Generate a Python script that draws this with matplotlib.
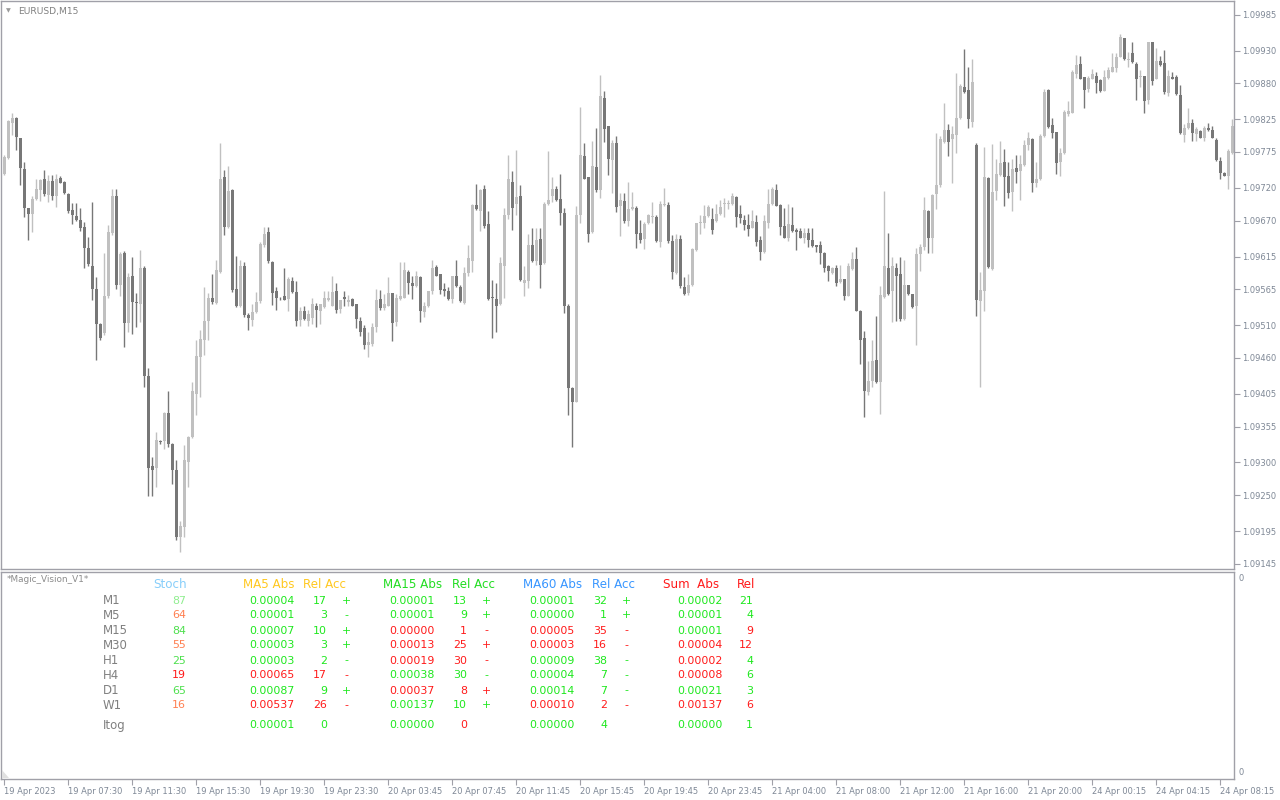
import numpy as np
import matplotlib.pyplot as plt
from matplotlib.patches import Polygon

# EURUSD M15 candles, prices in points (1e-5)
open_pts = [
    109742, 109766, 109820, 109827, 109796, 109749, 109689, 109680, 109703, 109717,
    109734, 109709, 109731, 109708, 109735, 109729, 109711, 109686, 109677, 109671,
    109661, 109628, 109601, 109565, 109512, 109498, 109554, 109651, 109707, 109572,
    109620, 109514, 109586, 109546, 109543, 109597, 109432, 109294, 109291, 109333,
    109333, 109376, 109329, 109289, 109186, 109201, 109301, 109339, 109405, 109462,
    109488, 109517, 109552, 109544, 109592, 109737, 109660, 109717, 109565, 109540,
    109601, 109526, 109518, 109530, 109547, 109632, 109652, 109607, 109562, 109552,
    109555, 109550, 109578, 109561, 109518, 109531, 109517, 109521, 109540, 109532,
    109538, 109548, 109540, 109562, 109535, 109553, 109546, 109550, 109542, 109516,
    109506, 109479, 109481, 109508, 109550, 109537, 109540, 109559, 109515, 109550,
    109552, 109591, 109575, 109570, 109583, 109530, 109539, 109562, 109599, 109588,
    109565, 109563, 109550, 109585, 109569, 109544, 109590, 109608, 109694, 109685,
    109718, 109665, 109553, 109550, 109542, 109600, 109678, 109729, 109695, 109708,
    109575, 109577, 109632, 109608, 109642, 109605, 109695, 109708, 109719, 109703,
    109681, 109539, 109414, 109393, 109678, 109769, 109736, 109652, 109752, 109717,
    109858, 109814, 109763, 109789, 109693, 109700, 109670, 109688, 109690, 109651,
    109642, 109666, 109675, 109676, 109638, 109694, 109694, 109639, 109590, 109642,
    109569, 109559, 109571, 109625, 109666, 109667, 109677, 109672, 109669, 109680,
    109695, 109695, 109695, 109706, 109680, 109671, 109663, 109659, 109668, 109640,
    109622, 109667, 109695, 109717, 109694, 109662, 109644, 109663, 109656, 109654,
    109644, 109651, 109641, 109632, 109632, 109621, 109600, 109590, 109598, 109576,
    109580, 109555, 109596, 109612, 109532, 109491, 109408, 109424, 109456, 109423,
    109553, 109598, 109563, 109597, 109588, 109519, 109571, 109557, 109540, 109619,
    109630, 109685, 109643, 109710, 109724, 109790, 109808, 109795, 109801, 109827,
    109875, 109870, 109821, 109785, 109547, 109563, 109735, 109596, 109715, 109740,
    109760, 109738, 109714, 109751, 109746, 109755, 109785, 109795, 109728, 109733,
    109799, 109870, 109816, 109805, 109760, 109773, 109833, 109835, 109895, 109910,
    109889, 109871, 109887, 109891, 109885, 109869, 109888, 109898, 109904, 109921,
    109949, 109916, 109927, 109909, 109889, 109891, 109854, 109943, 109887, 109914,
    109911, 109866, 109889, 109889, 109862, 109801, 109811, 109819, 109803, 109807,
    109797, 109812, 109808, 109794, 109761, 109743, 109739, 109773,
]
high_pts = [
    109771, 109824, 109835, 109828, 109797, 109760, 109690, 109707, 109733, 109733,
    109748, 109740, 109740, 109742, 109738, 109731, 109712, 109697, 109697, 109689,
    109668, 109645, 109698, 109584, 109513, 109620, 109663, 109718, 109718, 109622,
    109624, 109590, 109615, 109559, 109625, 109600, 109444, 109308, 109347, 109334,
    109377, 109409, 109330, 109303, 109211, 109326, 109341, 109423, 109487, 109502,
    109569, 109559, 109589, 109610, 109789, 109748, 109754, 109718, 109616, 109610,
    109607, 109528, 109543, 109561, 109638, 109661, 109661, 109608, 109569, 109553,
    109598, 109584, 109584, 109577, 109538, 109539, 109533, 109551, 109544, 109543,
    109563, 109562, 109586, 109575, 109549, 109562, 109556, 109552, 109543, 109523,
    109510, 109499, 109514, 109565, 109564, 109558, 109583, 109560, 109558, 109607,
    109607, 109594, 109586, 109593, 109585, 109546, 109563, 109609, 109602, 109589,
    109574, 109569, 109586, 109609, 109572, 109599, 109632, 109696, 109726, 109719,
    109724, 109685, 109579, 109574, 109615, 109690, 109770, 109746, 109778, 109725,
    109600, 109649, 109659, 109658, 109658, 109699, 109776, 109737, 109723, 109742,
    109690, 109543, 109415, 109693, 109844, 109788, 109737, 109792, 109811, 109893,
    109868, 109815, 109793, 109799, 109712, 109712, 109729, 109714, 109692, 109671,
    109668, 109680, 109699, 109678, 109700, 109720, 109699, 109648, 109649, 109648,
    109584, 109589, 109628, 109667, 109678, 109694, 109694, 109689, 109696, 109702,
    109704, 109702, 109713, 109707, 109694, 109679, 109680, 109686, 109678, 109647,
    109678, 109719, 109722, 109726, 109695, 109690, 109696, 109691, 109658, 109658,
    109658, 109658, 109658, 109633, 109639, 109622, 109602, 109599, 109602, 109602,
    109581, 109605, 109622, 109629, 109533, 109501, 109455, 109488, 109524, 109570,
    109715, 109651, 109615, 109605, 109615, 109610, 109572, 109558, 109628, 109634,
    109706, 109686, 109711, 109804, 109799, 109850, 109818, 109815, 109896, 109879,
    109933, 109905, 109917, 109789, 109591, 109783, 109737, 109787, 109765, 109792,
    109779, 109760, 109765, 109771, 109770, 109793, 109805, 109797, 109760, 109803,
    109871, 109871, 109827, 109806, 109781, 109839, 109853, 109900, 109923, 109922,
    109890, 109891, 109902, 109898, 109887, 109900, 109905, 109926, 109926, 109956,
    109950, 109928, 109944, 109913, 109901, 109892, 109944, 109944, 109934, 109922,
    109931, 109901, 109898, 109893, 109877, 109818, 109842, 109825, 109813, 109809,
    109815, 109820, 109815, 109796, 109767, 109745, 109780, 109826,
]
low_pts = [
    109740, 109764, 109801, 109778, 109725, 109676, 109641, 109652, 109702, 109700,
    109707, 109699, 109702, 109691, 109727, 109710, 109681, 109665, 109670, 109654,
    109597, 109601, 109548, 109456, 109487, 109495, 109551, 109648, 109566, 109554,
    109477, 109500, 109497, 109508, 109515, 109416, 109249, 109249, 109262, 109329,
    109321, 109324, 109267, 109182, 109163, 109186, 109262, 109338, 109373, 109400,
    109464, 109487, 109543, 109543, 109590, 109648, 109658, 109561, 109538, 109538,
    109523, 109502, 109509, 109528, 109544, 109630, 109605, 109541, 109534, 109549,
    109548, 109532, 109560, 109509, 109509, 109518, 109509, 109512, 109507, 109512,
    109537, 109547, 109539, 109529, 109529, 109540, 109540, 109539, 109505, 109494,
    109474, 109461, 109478, 109500, 109534, 109533, 109539, 109486, 109509, 109549,
    109551, 109557, 109550, 109569, 109515, 109523, 109538, 109558, 109585, 109558,
    109555, 109549, 109544, 109569, 109545, 109543, 109586, 109592, 109687, 109654,
    109659, 109548, 109491, 109500, 109541, 109552, 109673, 109656, 109679, 109578,
    109555, 109567, 109607, 109602, 109567, 109604, 109694, 109698, 109700, 109663,
    109529, 109373, 109323, 109392, 109667, 109733, 109638, 109651, 109714, 109704,
    109791, 109740, 109713, 109683, 109646, 109666, 109662, 109687, 109628, 109635,
    109626, 109665, 109666, 109637, 109629, 109693, 109635, 109580, 109589, 109567,
    109556, 109556, 109570, 109624, 109650, 109658, 109676, 109650, 109668, 109679,
    109676, 109688, 109694, 109661, 109667, 109655, 109647, 109658, 109631, 109610,
    109621, 109658, 109694, 109692, 109648, 109643, 109639, 109653, 109625, 109643,
    109635, 109630, 109630, 109622, 109603, 109591, 109578, 109589, 109570, 109575,
    109548, 109554, 109595, 109531, 109450, 109370, 109403, 109415, 109422, 109374,
    109552, 109556, 109515, 109516, 109517, 109518, 109556, 109537, 109480, 109593,
    109625, 109621, 109621, 109688, 109721, 109789, 109769, 109727, 109774, 109826,
    109866, 109811, 109813, 109524, 109415, 109531, 109598, 109595, 109701, 109739,
    109692, 109704, 109685, 109728, 109702, 109754, 109778, 109714, 109722, 109732,
    109798, 109812, 109796, 109741, 109739, 109772, 109830, 109834, 109888, 109886,
    109843, 109867, 109886, 109866, 109867, 109868, 109887, 109897, 109898, 109920,
    109916, 109905, 109911, 109854, 109875, 109835, 109849, 109878, 109886, 109907,
    109864, 109861, 109886, 109862, 109803, 109790, 109810, 109792, 109792, 109796,
    109792, 109807, 109796, 109761, 109733, 109738, 109718, 109772,
]
close_pts = [
    109768, 109822, 109827, 109798, 109750, 109689, 109680, 109703, 109718, 109732,
    109710, 109730, 109708, 109734, 109728, 109712, 109684, 109678, 109671, 109659,
    109628, 109603, 109565, 109512, 109491, 109554, 109652, 109707, 109572, 109619,
    109513, 109584, 109545, 109544, 109598, 109432, 109291, 109289, 109334, 109331,
    109375, 109329, 109289, 109186, 109203, 109303, 109339, 109409, 109463, 109489,
    109517, 109552, 109545, 109594, 109734, 109661, 109716, 109564, 109540, 109601,
    109525, 109521, 109530, 109546, 109634, 109650, 109608, 109560, 109552, 109551,
    109549, 109581, 109561, 109517, 109532, 109519, 109527, 109542, 109533, 109542,
    109552, 109552, 109561, 109534, 109548, 109550, 109548, 109540, 109519, 109500,
    109479, 109484, 109508, 109548, 109537, 109542, 109559, 109513, 109552, 109554,
    109594, 109574, 109570, 109586, 109531, 109540, 109562, 109598, 109586, 109564,
    109563, 109550, 109585, 109570, 109547, 109590, 109613, 109694, 109688, 109717,
    109662, 109550, 109551, 109540, 109605, 109678, 109734, 109690, 109706, 109579,
    109579, 109632, 109608, 109640, 109602, 109696, 109702, 109718, 109701, 109681,
    109539, 109414, 109392, 109678, 109770, 109734, 109649, 109754, 109717, 109860,
    109810, 109764, 109789, 109691, 109701, 109670, 109688, 109691, 109649, 109640,
    109665, 109678, 109677, 109639, 109696, 109695, 109639, 109592, 109642, 109570,
    109558, 109571, 109626, 109666, 109668, 109677, 109691, 109655, 109680, 109691,
    109696, 109696, 109708, 109676, 109674, 109663, 109657, 109669, 109638, 109622,
    109669, 109695, 109718, 109693, 109661, 109644, 109665, 109654, 109653, 109644,
    109651, 109640, 109631, 109630, 109621, 109598, 109593, 109597, 109575, 109580,
    109555, 109600, 109612, 109532, 109488, 109409, 109424, 109455, 109423, 109556,
    109600, 109557, 109600, 109586, 109519, 109571, 109557, 109538, 109619, 109630,
    109686, 109643, 109709, 109724, 109795, 109808, 109790, 109802, 109827, 109876,
    109867, 109825, 109882, 109549, 109564, 109737, 109599, 109714, 109741, 109758,
    109737, 109712, 109749, 109745, 109756, 109785, 109796, 109728, 109734, 109800,
    109867, 109813, 109804, 109758, 109774, 109836, 109837, 109897, 109908, 109887,
    109870, 109888, 109894, 109881, 109869, 109889, 109900, 109905, 109920, 109951,
    109917, 109917, 109912, 109887, 109891, 109853, 109943, 109884, 109914, 109908,
    109867, 109891, 109887, 109864, 109804, 109811, 109820, 109804, 109810, 109797,
    109812, 109808, 109797, 109762, 109743, 109739, 109776, 109815,
]

price_ticks = [1.09985, 1.09930, 1.09880, 1.09825, 1.09775, 1.09720, 1.09670, 1.09615,
               1.09565, 1.09510, 1.09460, 1.09405, 1.09355, 1.09300, 1.09250, 1.09195, 1.09145]
time_labels = ['19 Apr 2023', '19 Apr 07:30', '19 Apr 11:30', '19 Apr 15:30', '19 Apr 19:30',
               '19 Apr 23:30', '20 Apr 03:45', '20 Apr 07:45', '20 Apr 11:45', '20 Apr 15:45',
               '20 Apr 19:45', '20 Apr 23:45', '21 Apr 04:00', '21 Apr 08:00', '21 Apr 12:00',
               '21 Apr 16:00', '21 Apr 20:00', '24 Apr 00:15', '24 Apr 04:15', '24 Apr 08:15']
bars_per_label = 16

# indicator table (Magic_Vision_V1)
tf_names = ['M1', 'M5', 'M15', 'M30', 'H1', 'H4', 'D1', 'W1']
stoch_vals = ['87', '64', '84', '55', '25', '19', '65', '16']
stoch_cols = ['#90ee90', '#ff7f50', '#4ee04e', '#ff7f50', '#4ee04e', '#ff1a1a', '#4ee04e', '#ff7f50']

ma5_abs = ['0.00004', '0.00001', '0.00007', '0.00003', '0.00003', '0.00065', '0.00087', '0.00537']
ma5_rel = ['17', '3', '10', '3', '2', '17', '9', '26']
ma5_acc = ['+', '-', '+', '+', '-', '-', '+', '-']
ma5_col = ['g', 'g', 'g', 'g', 'g', 'r', 'g', 'r']

ma15_abs = ['0.00001', '0.00001', '0.00000', '0.00013', '0.00019', '0.00038', '0.00037', '0.00137']
ma15_rel = ['13', '9', '1', '25', '30', '30', '8', '10']
ma15_acc = ['+', '+', '-', '+', '-', '-', '+', '+']
ma15_col = ['g', 'g', 'r', 'r', 'r', 'g', 'r', 'g']

ma60_abs = ['0.00001', '0.00000', '0.00005', '0.00003', '0.00009', '0.00004', '0.00014', '0.00010']
ma60_rel = ['32', '1', '35', '16', '38', '7', '7', '2']
ma60_acc = ['+', '+', '-', '-', '-', '-', '-', '-']
ma60_col = ['g', 'g', 'r', 'r', 'g', 'g', 'g', 'r']

sum_abs = ['0.00002', '0.00001', '0.00001', '0.00004', '0.00002', '0.00008', '0.00021', '0.00137']
sum_abs_col = ['g', 'g', 'g', 'r', 'r', 'r', 'g', 'r']
sum_rel = ['21', '4', '9', '12', '4', '6', '3', '6']
sum_rel_col = ['g', 'g', 'r', 'r', 'g', 'g', 'g', 'r']

itog_vals = ['0.00001', '0', '0.00000', '0', '0.00000', '4', '0.00000', '1']
itog_cols = ['g', 'g', 'g', 'r', 'g', 'g', 'g', 'g']

GREEN = '#1ee81e'
RED = '#ff1a1a'
cmap = {'g': GREEN, 'r': RED}
FRAME = '#a0a0a8'
AXTXT = '#7f8896'

opens = np.array(open_pts) / 1e5
highs = np.array(high_pts) / 1e5
lows = np.array(low_pts) / 1e5
closes = np.array(close_pts) / 1e5
n = len(opens)
xs = np.arange(n)
up = closes >= opens

W, H = 1280, 800
fig = plt.figure(figsize=(W / 100, H / 100), dpi=100)
fig.patch.set_facecolor('white')


def px_axes(left, top, right, bottom):
    return fig.add_axes([left / W, 1 - bottom / H, (right - left) / W, (bottom - top) / H])


def put(x, y, s, color, size, ha='left'):
    fig.text(x / W, 1 - y / H, s, color=color, fontsize=size, ha=ha, va='center',
             family='DejaVu Sans')


ax = px_axes(1, 1, 1234, 569)
sub = px_axes(1, 572, 1234, 779)

# candles
bull_c = '#c0c0c0'
bear_c = '#777777'
cols = np.where(up, bull_c, bear_c)
ax.vlines(xs, lows, highs, colors=cols, lw=1)
body_lo = np.minimum(opens, closes)
body_h = np.maximum(np.abs(closes - opens), 0.000012)
ax.bar(xs, body_h, bottom=body_lo, width=0.74, color=cols, linewidth=0)

ax.set_xlim(-0.8, n - 0.55)
ax.set_ylim(1.09137, 1.10006)
ax.set_xticks([])
ax.yaxis.tick_right()
ax.set_yticks(price_ticks)
ax.set_yticklabels(['%.5f' % p for p in price_ticks])
ax.tick_params(axis='y', direction='out', length=4, width=0.8, color=FRAME,
               labelcolor=AXTXT, labelsize=6, pad=2)
for sp in ax.spines.values():
    sp.set_color(FRAME)
    sp.set_linewidth(1)

ax.text(0.004, 0.982, '\u25bc', transform=ax.transAxes, fontsize=4.5, color='#9a9a9a',
        va='center', ha='left')
ax.text(0.0135, 0.982, 'EURUSD,M15', transform=ax.transAxes, fontsize=6.6, color='#808080',
        va='center', ha='left')

# sub window
sub.set_xlim(-0.8, n - 0.55)
sub.set_ylim(0, 1)
sub.set_yticks([])
sub.set_xticks([k * bars_per_label for k in range(len(time_labels))])
sub.set_xticklabels(time_labels)
for lab in sub.get_xticklabels():
    lab.set_horizontalalignment('left')
sub.tick_params(axis='x', direction='out', length=4, width=0.8, color=FRAME,
                labelcolor=AXTXT, labelsize=6, pad=2)
for sp in sub.spines.values():
    sp.set_color(FRAME)
    sp.set_linewidth(1)
sub.text(1.004, 0.97, '0', transform=sub.transAxes, fontsize=6, color=AXTXT, va='center')
sub.text(1.004, 0.03, '0', transform=sub.transAxes, fontsize=6, color=AXTXT, va='center')
fig.patches.append(Polygon([[2 / W, 1 - 770 / H], [2 / W, 1 - 778 / H], [9 / W, 1 - 778 / H]],
                           closed=True, transform=fig.transFigure, color='#e0e0e0', lw=0))

put(7, 579, '*Magic_Vision_V1*', '#8c8c8c', 6.4)

# headers
hy = 584.5
hs = 8.6
put(153, hy, 'Stoch', '#87cefa', hs)
put(243, hy, 'MA5 Abs', '#ffc820', hs)
put(303, hy, 'Rel Acc', '#ffc820', hs)
put(383, hy, 'MA15 Abs', '#22dd22', hs)
put(452, hy, 'Rel Acc', '#22dd22', hs)
put(523, hy, 'MA60 Abs', '#3896ff', hs)
put(592, hy, 'Rel Acc', '#3896ff', hs)
put(663, hy, 'Sum  Abs', '#ff1a1a', hs)
put(737, hy, 'Rel', '#ff1a1a', hs)

row_y = [600.5, 615.5, 630.5, 645.5, 660.5, 675.5, 690.5, 705.5]
vs = 7.9
for i, y in enumerate(row_y):
    put(103, y, tf_names[i], '#808080', 8.5)
    put(186, y, stoch_vals[i], stoch_cols[i], vs, 'right')
    put(295, y, ma5_abs[i], cmap[ma5_col[i]], vs, 'right')
    put(327, y, ma5_rel[i], cmap[ma5_col[i]], vs, 'right')
    put(346, y, ma5_acc[i], cmap[ma5_col[i]], vs, 'center')
    put(435, y, ma15_abs[i], cmap[ma15_col[i]], vs, 'right')
    put(467, y, ma15_rel[i], cmap[ma15_col[i]], vs, 'right')
    put(486, y, ma15_acc[i], cmap[ma15_col[i]], vs, 'center')
    put(575, y, ma60_abs[i], cmap[ma60_col[i]], vs, 'right')
    put(607, y, ma60_rel[i], cmap[ma60_col[i]], vs, 'right')
    put(626, y, ma60_acc[i], cmap[ma60_col[i]], vs, 'center')
    put(723, y, sum_abs[i], cmap[sum_abs_col[i]], vs, 'right')
    put(753, y, sum_rel[i], cmap[sum_rel_col[i]], vs, 'right')

# Itog row
iy = 725.5
put(103, iy, 'Itog', '#808080', 8.5)
itog_x = [295, 327, 435, 467, 575, 607, 723, 753]
for xv, s, c in zip(itog_x, itog_vals, itog_cols):
    put(xv, iy, s, cmap[c], vs, 'right')

fig.savefig('out.png', dpi=100, facecolor='white')
